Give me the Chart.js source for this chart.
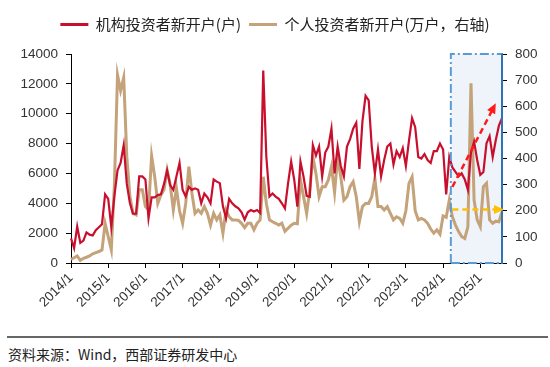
<!DOCTYPE html>
<html>
<head>
<meta charset="utf-8">
<script src="https://cdn.jsdelivr.net/npm/chart.js@4/dist/chart.umd.min.js"></script>
<style>
  body { margin: 0; background: #fff; }
  #wrap { position: relative; width: 550px; height: 367px; }
  #chart { display: block; }
  .rule { position: absolute; left: 7px; right: 2px; top: 336px; height: 2px; background: #666; }
  .source { position: absolute; left: 8px; top: 344px; font: 14px "Noto Sans CJK SC", sans-serif; color: #222; }
</style>
</head>
<body>
<div id="wrap">
  <canvas id="chart" width="550" height="335"></canvas>
  <div class="rule"></div>
  <div class="source">资料来源：Wind，西部证券研发中心</div>
</div>
<script>
// ---- data: monthly, 2014/1 .. 2025/8 ----
const months = [];
for (let y = 2014; y <= 2025; y++) {
  for (let m = 1; m <= 12; m++) {
    if (y === 2025 && m > 8) break;
    months.push(y + '/' + m);
  }
}

// 机构投资者新开户（户），左轴
const instAccounts = [
  1650, 1000, 2450, 1350, 1500, 2050, 1900, 1850, 2200, 2400, 2600, 4600,
  4300, 2400, 4500, 6200, 6700, 7900, 5300, 4000, 3300, 3300, 5800, 5800,
  5600, 3000, 4400, 4400, 4550, 4600, 5300, 6200, 5200, 4900, 5800, 6700,
  4900, 4450, 5100, 4900, 5000, 4900, 4000, 4650, 4400, 4000, 5600, 5450,
  5350, 3800, 3000, 4300, 4000, 3800, 3660, 3400, 2900, 3400, 3550, 3450,
  3550, 3350, 12900, 7100, 4450, 4650, 4450, 4300, 4000, 3660, 5340, 6790,
  5560, 3770, 6790, 5780, 4500, 4440, 7900, 7200, 7800, 5800, 7400, 7800,
  9000, 6000, 7800, 6500, 5800, 7800, 8300, 9000, 9400, 6300, 9500, 11200,
  10900, 7800, 6000, 7600, 5800, 6900, 7800, 8000, 6600, 7500, 7100, 7700,
  6500, 8200, 9700, 9100, 7100, 7000, 7300, 6900, 6700, 7500, 7500, 8000,
  7600, 4600, 7100, 6400, 6100, 5800, 6000, 5600, 4900, 7400, 8130, 6900,
  5900, 6100, 8020, 8500, 7100, 8240, 9200, 9700
];

// 个人投资者新开户（万户），右轴
const indivAccounts = [
  14, 20, 27, 10, 18, 22, 27, 35, 40, 44, 50, 152,
  101, 50, 300, 720, 660, 710, 407, 254, 190, 184, 280, 280,
  216, 203, 410, 330, 228, 260, 280, 356, 300, 203, 286, 200,
  152, 228, 369, 267, 190, 203, 190, 216, 190, 145, 190, 165,
  184, 114, 203, 177, 165, 165, 163, 152, 135, 152, 152, 127,
  152, 165, 330, 228, 165, 158, 152, 145, 152, 121, 133, 145,
  152, 150, 318, 254, 190, 280, 407, 343, 254, 292, 292, 318,
  369, 270, 407, 330, 241, 254, 292, 311, 254, 158, 216, 228,
  228, 254, 324, 216, 216, 203, 216, 190, 165, 177, 171, 152,
  200, 305, 330, 200, 165, 171, 165, 152, 130, 114, 127, 110,
  180, 175, 241, 177, 145, 120, 101, 94, 139, 688, 241, 165,
  139, 292, 305, 165, 152, 160, 158, 195
];

// highlighted period and the two trend arrows (category label, axis value)
const highlightFrom = '2024/3';
const trendUp = { from: ['2024/4', 5100], to: ['2025/6', 10700] };
const trendFlat = { from: ['2024/4', 205], to: ['2025/8', 205] };

const RED = '#C8102E';
const TAN = '#C4A27A';
const tickFont = { family: '"Liberation Sans", Arial, sans-serif', size: 13.5 };

function drawArrow(ctx, x1, y1, x2, y2, color) {
  const ang = Math.atan2(y2 - y1, x2 - x1);
  const head = 10;
  ctx.save();
  ctx.strokeStyle = color;
  ctx.fillStyle = color;
  ctx.lineWidth = 2.5;
  ctx.setLineDash([6, 4]);
  ctx.beginPath();
  ctx.moveTo(x1, y1);
  ctx.lineTo(x2 - Math.cos(ang) * head * 0.8, y2 - Math.sin(ang) * head * 0.8);
  ctx.stroke();
  ctx.setLineDash([]);
  ctx.beginPath();
  ctx.moveTo(x2, y2);
  ctx.lineTo(x2 - head * Math.cos(ang) + 4.5 * Math.sin(ang), y2 - head * Math.sin(ang) - 4.5 * Math.cos(ang));
  ctx.lineTo(x2 - head * Math.cos(ang) - 4.5 * Math.sin(ang), y2 - head * Math.sin(ang) + 4.5 * Math.cos(ang));
  ctx.closePath();
  ctx.fill();
  ctx.restore();
}

// light blue box behind the lines, its borders and arrows on top
const highlightBox = {
  id: 'highlightBox',
  beforeDatasetsDraw(chart) {
    const { ctx, chartArea: a, scales: { x } } = chart;
    const left = x.getPixelForValue(months.indexOf(highlightFrom) + 0.5);
    ctx.save();
    ctx.fillStyle = '#EEF4FA';
    ctx.fillRect(left, a.top, a.right - left, a.bottom - a.top);
    ctx.restore();
  },
  afterDatasetsDraw(chart) {
    const { ctx, chartArea: a, scales: { x, y, y1 } } = chart;
    const left = x.getPixelForValue(months.indexOf(highlightFrom) + 0.5);
    ctx.save();
    ctx.strokeStyle = '#5B9BD5';
    ctx.lineWidth = 2;
    ctx.setLineDash([9, 3, 2, 3]);
    ctx.beginPath();
    ctx.moveTo(left, a.bottom);
    ctx.lineTo(left, a.top);
    ctx.lineTo(a.right, a.top);
    ctx.moveTo(left, a.bottom);
    ctx.lineTo(a.right, a.bottom);
    ctx.stroke();
    ctx.setLineDash([]);
    ctx.strokeStyle = '#2E75B6';
    ctx.beginPath();
    ctx.moveTo(a.right, a.top);
    ctx.lineTo(a.right, a.bottom);
    ctx.stroke();
    ctx.restore();

    drawArrow(ctx,
      x.getPixelForValue(months.indexOf(trendUp.from[0])), y.getPixelForValue(trendUp.from[1]),
      x.getPixelForValue(months.indexOf(trendUp.to[0])), y.getPixelForValue(trendUp.to[1]), '#FF1A1A');
    drawArrow(ctx,
      x.getPixelForValue(months.indexOf(trendFlat.from[0])), y1.getPixelForValue(trendFlat.from[1]),
      x.getPixelForValue(months.indexOf(trendFlat.to[0])) + 2, y1.getPixelForValue(trendFlat.to[1]), '#FFC000');
  }
};

// extra room under the legend
const legendSpace = {
  id: 'legendSpace',
  afterInit(chart) {
    const legend = chart.legend;
    if (!legend) return;
    const fit = legend.fit;
    legend.fit = function () { fit.call(this); this.height = 45; };
  }
};

const chart = new Chart(document.getElementById('chart'), {
  type: 'line',
  data: {
    labels: months,
    datasets: [
      { label: '机构投资者新开户(户)', data: instAccounts, yAxisID: 'y',
        borderColor: RED, backgroundColor: RED, borderWidth: 2.2, pointRadius: 0, tension: 0 },
      { label: '个人投资者新开户(万户，右轴)', data: indivAccounts, yAxisID: 'y1',
        borderColor: TAN, backgroundColor: TAN, borderWidth: 3, pointRadius: 0, tension: 0 }
    ]
  },
  options: {
    responsive: false,
    animation: false,
    layout: { padding: { top: 9, left: 0, right: 0, bottom: 0 } },
    plugins: {
      tooltip: { enabled: false },
      legend: {
        position: 'top',
        labels: {
          boxWidth: 28, boxHeight: 3, padding: 8, color: '#222',
          font: { family: '"Noto Sans CJK SC", sans-serif', size: 15 },
          generateLabels(c) {
            return Chart.defaults.plugins.legend.labels.generateLabels(c).map(l => {
              l.lineWidth = 0;
              l.fillStyle = l.strokeStyle;
              return l;
            });
          }
        }
      }
    },
    scales: {
      x: {
        offset: false,
        grid: { drawOnChartArea: false, tickLength: 5, color: '#000' },
        border: { color: '#000', width: 1 },
        ticks: {
          autoSkip: false, minRotation: 45, maxRotation: 45, padding: 2,
          color: '#333', font: tickFont,
          callback(v) {
            const l = this.getLabelForValue(v);
            return l.endsWith('/1') ? l : null;
          }
        },
        afterFit(s) { s.height = 72; }
      },
      y: {
        position: 'left', min: 0, max: 14000,
        grid: { drawOnChartArea: false, tickLength: 5, color: '#000' },
        border: { color: '#000', width: 1 },
        ticks: { stepSize: 2000, padding: 8, color: '#333', font: tickFont, callback: v => String(v) },
        afterFit(s) { s.width = 71; }
      },
      y1: {
        position: 'right', min: 0, max: 800,
        grid: { drawOnChartArea: false, tickLength: 5, color: '#000' },
        border: { color: '#2E75B6', width: 2 },
        ticks: { stepSize: 100, padding: 8, color: '#333', font: tickFont, callback: v => String(v) },
        afterFit(s) { s.width = 48; }
      }
    }
  },
  plugins: [highlightBox, legendSpace]
});
</script>
</body>
</html>
